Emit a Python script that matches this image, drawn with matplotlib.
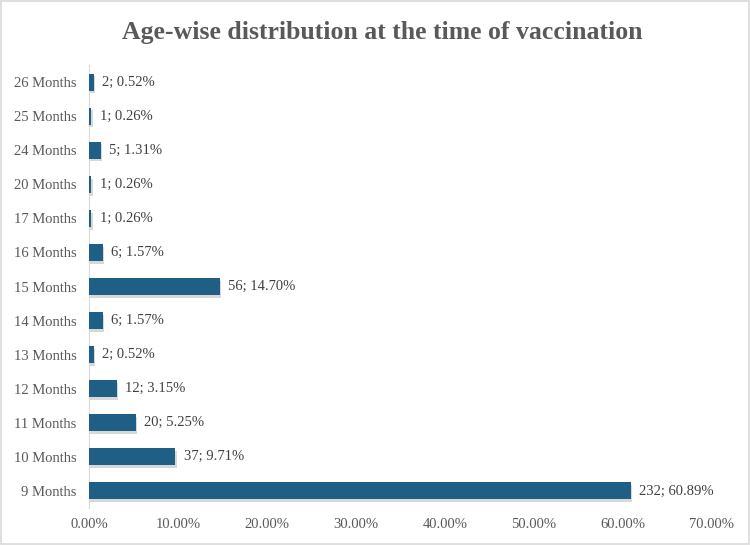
import matplotlib
matplotlib.use("Agg")
import matplotlib.pyplot as plt
import matplotlib.patheffects as pe
from matplotlib.patches import Rectangle
from matplotlib.ticker import FuncFormatter

categories = ["9 Months", "10 Months", "11 Months", "12 Months", "13 Months", "14 Months",
              "15 Months", "16 Months", "17 Months", "20 Months", "24 Months", "25 Months", "26 Months"]
counts = [232, 37, 20, 12, 2, 6, 56, 6, 1, 1, 5, 1, 2]
percents = [60.89, 9.71, 5.25, 3.15, 0.52, 1.57, 14.70, 1.57, 0.26, 0.26, 1.31, 0.26, 0.52]
xticks = [0, 10, 20, 30, 40, 50, 60, 70]

plt.rcParams['font.family'] = ['Liberation Serif', 'DejaVu Serif']

fig = plt.figure(figsize=(7.5, 5.45), dpi=100)
ax = fig.add_axes([89/750, 1-508/545, (712-89)/750, (508-65)/545])

bar_color = "#1F5F86"
ypos = list(range(len(categories)))
bars = ax.barh(ypos, percents, height=0.5, color=bar_color, zorder=3)
for b in bars:
    b.set_path_effects([pe.SimplePatchShadow(offset=(1, -2), shadow_rgbFace="#AAAAAA", alpha=0.45), pe.Normal()])

for y, c, p in zip(ypos, counts, percents):
    ax.annotate(f"{c}; {p:.2f}%", xy=(p, y), xytext=(6, 0), textcoords="offset points",
                va="center", ha="left", fontsize=10.5, color="#404040")

ax.set_xlim(0, 70)
ax.set_ylim(-0.5, len(categories) - 0.5)
ax.set_xticks(xticks)
ax.xaxis.set_major_formatter(FuncFormatter(lambda v, _: f"{v:.2f}%"))
ax.set_yticks(ypos)
ax.set_yticklabels(categories)
ax.tick_params(axis="both", length=0, labelsize=10.5, labelcolor="#595959")
ax.tick_params(axis="x", pad=7)
ax.tick_params(axis="y", pad=9)
for s in ["top", "right", "bottom"]:
    ax.spines[s].set_visible(False)
ax.spines["left"].set_color("#D9D9D9")

fig.text(382/750, 1-33/545, "Age-wise distribution at the time of vaccination", ha="center", va="center",
         fontsize=18.5, fontweight="bold", color="#595959")

fig.patches.append(Rectangle((0.001, 0.001), 0.998, 0.997, transform=fig.transFigure,
                             fill=False, edgecolor="#D9D9D9", linewidth=1.2))

fig.savefig("out.png", dpi=100)
